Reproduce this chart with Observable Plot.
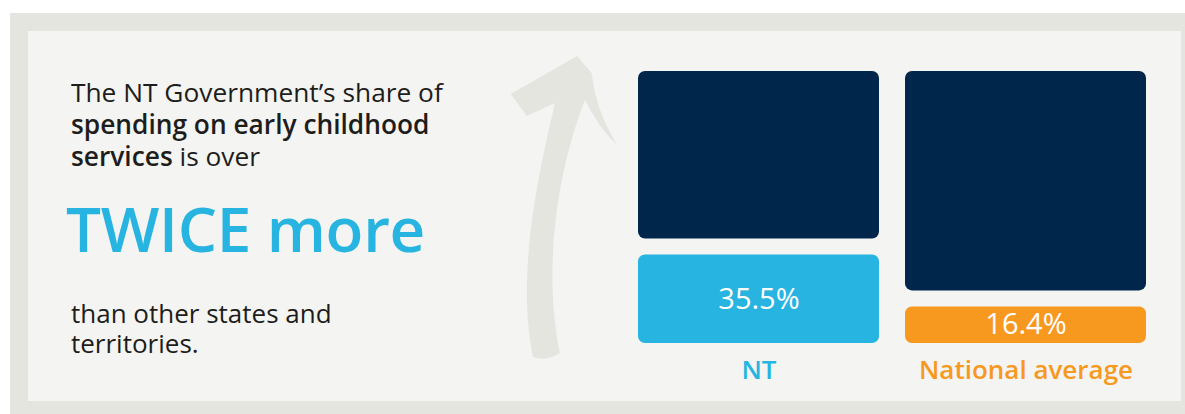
<!DOCTYPE html>
<html><head><meta charset="utf-8">
<script src="https://cdn.jsdelivr.net/npm/d3@7"></script>
<script src="https://cdn.jsdelivr.net/npm/@observablehq/plot@0.6"></script>
<style>
body{margin:0;background:#fff;}
#wrap{position:relative;width:1185px;height:414px;overflow:hidden;font-family:"Open Sans",sans-serif;}
#wrap svg{position:absolute;left:0;top:0;}
</style></head><body><div id="wrap"></div>
<script>
// ---- data ----
const regions = ["NT", "National average"];
const shares = [35.5, 16.4];
const valueLabels = ["35.5%", "16.4%"];
const total = 100;
const introLines = [
  [["The NT Government\u2019s share of", false]],
  [["spending on early childhood", true]],
  [["services", true], [" is over", false]]
];
const headline = "TWICE more";
const outroLines = ["than other states and", "territories."];

// ---- styles ----
const shareColors = ["#27b4e0", "#f8991f"];
const navy = "#01264c";
const panelOuter = "#e5e5e0";
const panelInner = "#f4f4f2";
const textColor = "#1d1d1b";

const wrap = d3.select("#wrap");

// background decoration
const bg = wrap.append("svg").attr("width", 1185).attr("height", 414);
bg.append("rect").attr("x", 10).attr("y", 13).attr("width", 1185).attr("height", 414).attr("fill", panelOuter);
bg.append("rect").attr("x", 28).attr("y", 31).attr("width", 1153).attr("height", 370).attr("fill", panelInner);
bg.append("path")
  .attr("d", "M577,56 L510.7,94 L526.7,116 L555,103 C538,175 516,275 533,357 Q546,362 560,353 C546,290 550,190 585,100 Q600,130 618,146 Q596,112 591.7,73 Z")
  .attr("fill", panelOuter);

const txt = bg.append("g").attr("font-family", "Open Sans").attr("fill", textColor);
// intro paragraph as one text element
const intro = txt.append("text").attr("x", 71).attr("y", 102).attr("font-size", 26.3);
introLines.forEach((parts, i) => {
  parts.forEach(([s, b], j) => {
    const ts = intro.append("tspan").text(s).attr("font-weight", b ? 600 : 400);
    if (j === 0) ts.attr("x", 71).attr("dy", i === 0 ? 0 : 32);
  });
});
txt.append("text").attr("x", 66).attr("y", 252).attr("font-size", 62).attr("fill", shareColors[0])
  .attr("font-weight", 600).attr("letter-spacing", -0.3).text(headline);
const outro = txt.append("text").attr("x", 71).attr("y", 323).attr("font-size", 26);
outroLines.forEach((s, i) => {
  outro.append("tspan").attr("x", 71).attr("dy", i === 0 ? 0 : 30).text(s);
});

// ---- chart ----
const rows = regions.map((r, i) => ({region: r, value: shares[i], label: valueLabels[i]}));

const chart = Plot.plot({
  width: 1185, height: 414,
  marginLeft: 637, marginRight: 38, marginTop: 71, marginBottom: 71,
  style: {background: "transparent", fontFamily: "Open Sans"},
  x: {domain: regions, paddingInner: 0.097, paddingOuter: 0, axis: null},
  y: {domain: [0, total], axis: null},
  color: {domain: regions, range: shareColors},
  marks: [
    Plot.barY(rows, {x: "region", y1: 0, y2: "value", fill: "region", insetTop: 8, rx: 7}),
    Plot.barY(rows, {x: "region", y1: "value", y2: total, fill: navy, insetBottom: 8, rx: 7}),
    Plot.text(rows, {x: "region", y: d => d.value / 2, dy: 4, text: "label", fill: "white", fontSize: 29, fontWeight: 400}),
    Plot.text(rows, {x: "region", y: 0, dy: 27, text: "region", fill: "region", fontSize: 26, fontWeight: 600})
  ]
});
wrap.node().appendChild(chart);
</script></body></html>
